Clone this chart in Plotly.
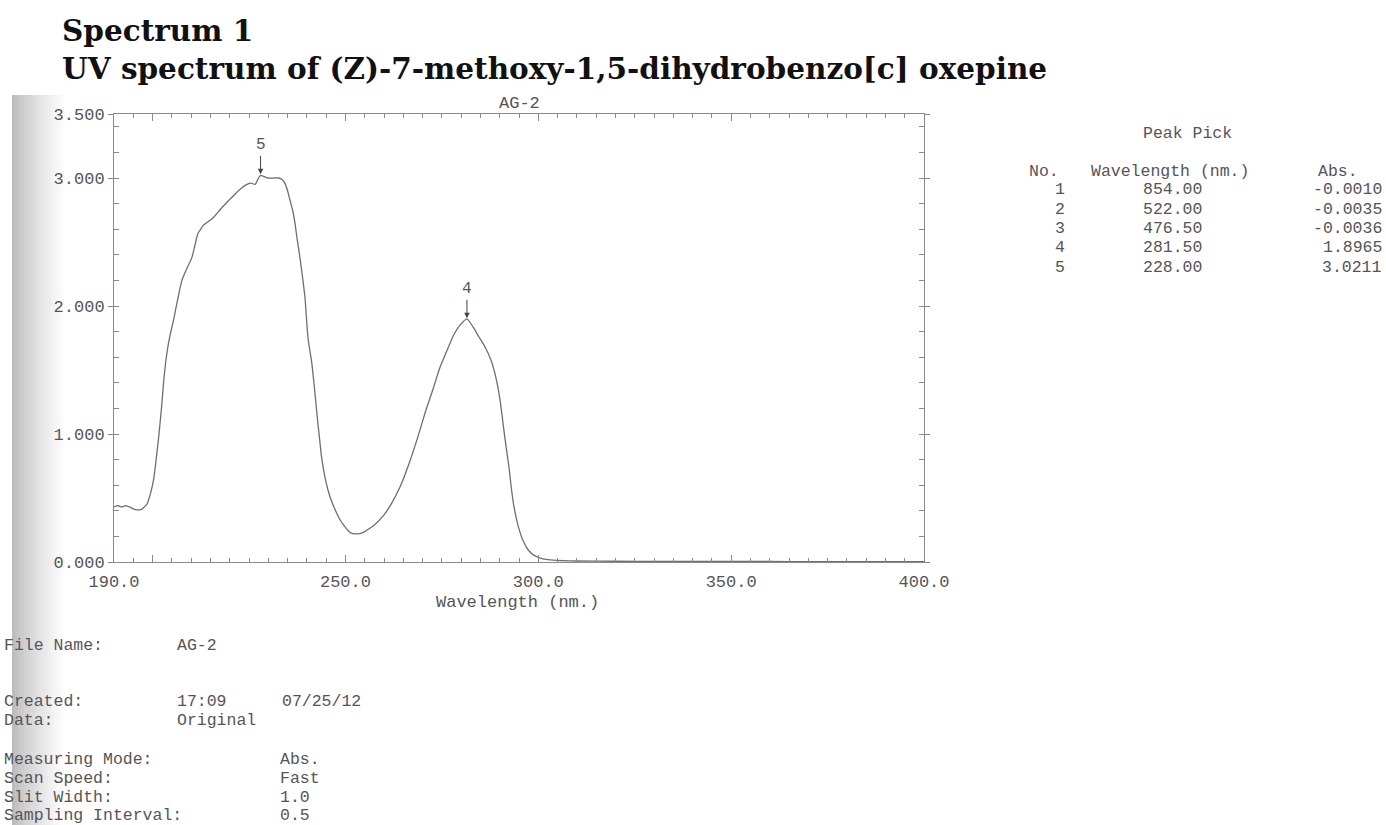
import plotly.graph_objects as go

# ---------------- data ----------------
wavelength = [190, 191, 192, 193, 194, 195.5, 197, 198.5, 199.5, 200.3, 201, 201.6, 202.3, 203, 203.8,
              204.6, 205.5, 206.3, 207.6, 209, 210.2, 211.8, 212.5, 213.1, 214, 215.7, 218, 220.9, 223,
              224.5, 225.5, 226.6, 227.3, 228, 229, 230, 231.5, 232.6, 233.5, 234.3, 235, 235.6, 236.3,
              236.9, 237.5, 238.2, 238.9, 239.5, 240.3, 241.3, 242, 242.6, 243.3, 243.9, 245, 246, 247.3,
              248.6, 250, 251.2, 253, 254.5, 255.6, 257.5, 259.8, 262, 264.2, 266.5, 268.7, 270.7, 272.7,
              274.5, 276.3, 278, 279.7, 281.5, 283, 284.6, 286.2, 287.7, 288.7, 289.5, 290.3, 291, 291.7,
              292.4, 293, 293.7, 294.8, 296, 297.5, 299, 300.2, 302, 304.8, 310, 320, 330, 340, 350, 360,
              370, 380, 390, 400]
absorbance = [0.43, 0.44, 0.43, 0.44, 0.43, 0.41, 0.41, 0.45, 0.54, 0.65, 0.82, 0.98, 1.20, 1.45, 1.65,
              1.78, 1.90, 2.02, 2.20, 2.30, 2.38, 2.57, 2.60, 2.63, 2.65, 2.69, 2.77, 2.86, 2.92,
              2.95, 2.96, 2.95, 2.99, 3.02, 3.01, 3.00, 3.00, 3.00, 2.99, 2.96, 2.90, 2.83, 2.75,
              2.65, 2.52, 2.38, 2.22, 2.07, 1.75, 1.55, 1.35, 1.16, 0.96, 0.80, 0.62, 0.51, 0.41,
              0.33, 0.27, 0.23, 0.22, 0.23, 0.25, 0.29, 0.36, 0.46, 0.59, 0.77, 0.97, 1.17, 1.35,
              1.52, 1.65, 1.77, 1.85, 1.90, 1.84, 1.76, 1.68, 1.58, 1.48, 1.37, 1.22, 1.05, 0.89,
              0.74, 0.58, 0.43, 0.28, 0.17, 0.09, 0.05, 0.035, 0.02, 0.012, 0.008, 0.006, 0.005, 0.005,
              0.004, 0.004, 0.003, 0.003, 0.003, 0.003]

peak_no = [1, 2, 3, 4, 5]
peak_wl = [854.00, 522.00, 476.50, 281.50, 228.00]
peak_abs = [-0.0010, -0.0035, -0.0036, 1.8965, 3.0211]

x_tickvals = [190, 200, 250, 300, 350, 400]
x_ticktext = ["190.0", "", "250.0", "300.0", "350.0", "400.0"]
y_tickvals = [0, 1, 2, 3, 3.5]
y_ticktext = ["0.000", "1.000", "2.000", "3.000", "3.500"]

info_labels = ["File Name:", "Created:", "Data:", "Measuring Mode:", "Scan Speed:", "Slit Width:",
               "Sampling Interval:"]
info_values = ["AG-2", "17:09", "Original", "Abs.", "Fast", "1.0", "0.5"]
created_date = "07/25/12"

title1 = "Spectrum 1"
title2 = "UV spectrum of (Z)-7-methoxy-1,5-dihydrobenzo[c] oxepine"

# ---------------- layout geometry (pixels) ----------------
W_FIG, H_FIG = 1386, 825
L, R, T, B = 114, 924, 114, 562
PW, PH = R - L, B - T


def xp(px):
    return (px - L) / PW


def yp(py):
    return (B - py) / PH


MONO = "Liberation Mono"
GRAY = "#555555"

fig = go.Figure()
fig.add_trace(go.Scatter(x=wavelength, y=absorbance, mode="lines",
                         line=dict(color="#6e6e6e", width=1.3, shape="spline", smoothing=0.6),
                         hoverinfo="skip", showlegend=False))

annotations = []
# peak markers on the graph
for n, w, a in zip(peak_no, peak_wl, peak_abs):
    if 190 <= w <= 400:
        annotations.append(dict(x=w, y=a, xref="x", yref="y", text=str(n), showarrow=True,
                                ax=0, ay=-30, arrowhead=2, arrowsize=1.1, arrowwidth=1,
                                arrowcolor="#444444", standoff=1,
                                font=dict(family=MONO, size=16, color=GRAY)))

# plot title and axis title
annotations.append(dict(x=0.5, y=yp(104), xref="paper", yref="paper", text="AG-2", showarrow=False,
                        xanchor="center", yanchor="middle", font=dict(family=MONO, size=17, color=GRAY)))
annotations.append(dict(x=xp(517), y=yp(602), xref="paper", yref="paper", text="Wavelength (nm.)",
                        showarrow=False, xanchor="center", yanchor="middle",
                        font=dict(family=MONO, size=17, color=GRAY)))

# main titles
annotations.append(dict(x=xp(60), y=yp(30), xref="paper", yref="paper", text="<b>%s</b>" % title1,
                        showarrow=False, xanchor="left", yanchor="middle",
                        font=dict(family="DejaVu Serif", size=29.5, color="#111111")))
annotations.append(dict(x=xp(60), y=yp(68), xref="paper", yref="paper", text="<b>%s</b>" % title2,
                        showarrow=False, xanchor="left", yanchor="middle",
                        font=dict(family="DejaVu Serif", size=29.5, color="#111111")))

# peak pick table
tf = dict(family=MONO, size=16.5, color=GRAY)
annotations.append(dict(x=xp(1187), y=yp(133), xref="paper", yref="paper", text="Peak Pick",
                        showarrow=False, xanchor="center", yanchor="middle", font=tf))
for txt, px in [("No.", 1027), ("Wavelength (nm.)", 1089), ("Abs.", 1316)]:
    annotations.append(dict(x=xp(px), y=yp(171), xref="paper", yref="paper", text=txt,
                            showarrow=False, xanchor="left", yanchor="middle", font=tf))
for i, (n, w, a) in enumerate(zip(peak_no, peak_wl, peak_abs)):
    py = 190 + 19.3 * i
    annotations.append(dict(x=xp(1060), y=yp(py), xref="paper", yref="paper", text=str(n),
                            showarrow=False, xanchor="center", yanchor="middle", font=tf))
    annotations.append(dict(x=xp(1204), y=yp(py), xref="paper", yref="paper", text="%.2f" % w,
                            showarrow=False, xanchor="right", yanchor="middle", font=tf))
    annotations.append(dict(x=xp(1384), y=yp(py), xref="paper", yref="paper", text="%.4f" % a,
                            showarrow=False, xanchor="right", yanchor="middle", font=tf))

# info block at the bottom
info_y = [645, 701, 720, 759, 778, 797, 815]
info_vx = [175, 175, 175, 278, 278, 278, 278]
for lab, val, py, vx in zip(info_labels, info_values, info_y, info_vx):
    annotations.append(dict(x=xp(2), y=yp(py), xref="paper", yref="paper", text=lab,
                            showarrow=False, xanchor="left", yanchor="middle", font=tf))
    annotations.append(dict(x=xp(vx), y=yp(py), xref="paper", yref="paper", text=val,
                            showarrow=False, xanchor="left", yanchor="middle", font=tf))
annotations.append(dict(x=xp(280), y=yp(701), xref="paper", yref="paper", text=created_date,
                        showarrow=False, xanchor="left", yanchor="middle", font=tf))

# scanner shadow on the left edge
shapes = []
n_steps = 18
x_start, x_end = 12, 66
step = (x_end - x_start) / n_steps
for i in range(n_steps):
    f = i / (n_steps - 1)
    g = int(188 + (255 - 188) * f ** 0.8)
    shapes.append(dict(type="rect", xref="paper", yref="paper",
                       x0=xp(x_start + i * step), x1=xp(x_start + (i + 1) * step + 0.5),
                       y0=yp(825), y1=yp(95), line=dict(width=0),
                       fillcolor="rgb(%d,%d,%d)" % (g, g, g), layer="below"))

axis_common = dict(showline=True, linecolor="#8a8a8a", linewidth=1, mirror="ticks", showgrid=False,
                   zeroline=False, tickcolor="#8a8a8a", tickfont=dict(family=MONO, size=17, color=GRAY))

fig.update_layout(
    width=W_FIG, height=H_FIG, autosize=False,
    margin=dict(l=L, r=W_FIG - R, t=T, b=H_FIG - B, pad=0),
    paper_bgcolor="white", plot_bgcolor="white",
    showlegend=False,
    xaxis=dict(range=[190, 400], tickmode="array", tickvals=x_tickvals, ticktext=x_ticktext,
               ticks="inside", ticklen=7, tickwidth=1, ticklabelstandoff=4,
               minor=dict(tickmode="linear", tick0=190, dtick=5, ticks="inside", ticklen=4,
                          tickcolor="#8a8a8a"),
               **axis_common),
    yaxis=dict(range=[0, 3.5], tickmode="array", tickvals=y_tickvals, ticktext=y_ticktext,
               ticks="outside", ticklen=5, tickwidth=1, ticklabelstandoff=0,
               minor=dict(tickmode="linear", tick0=0, dtick=0.2, ticks="inside", ticklen=5,
                          tickcolor="#8a8a8a"),
               **axis_common),
    annotations=annotations,
    shapes=shapes,
)

fig.write_html("out.html")
